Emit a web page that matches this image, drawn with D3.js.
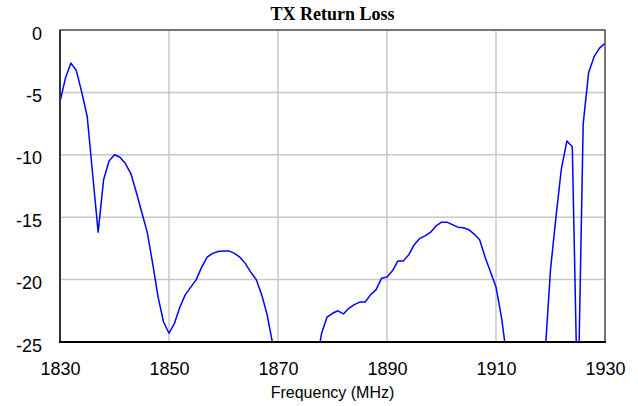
<!DOCTYPE html>
<html>
<head>
<meta charset="utf-8">
<script src="https://cdn.jsdelivr.net/npm/d3@7/dist/d3.min.js"></script>
<style>
	body { margin: 0; background: #fff; }
	svg { display: block; }
</style>
</head>
<body>
<svg id="chart" width="638" height="406"></svg>
<script>
// Data (return loss in dB, 1 MHz steps)
var freqs = [1830,1831,1832,1833,1834,1835,1836,1837,1838,1839,
	1840,1841,1842,1843,1844,1845,1846,1847,1848,1849,
	1850,1851,1852,1853,1854,1855,1856,1857,1858,1859,
	1860,1861,1862,1863,1864,1865,1866,1867,1868,1869,
	1870,1871,1872,1873,1874,1875,1876,1877,1878,1879,
	1880,1881,1882,1883,1884,1885,1886,1887,1888,1889,
	1890,1891,1892,1893,1894,1895,1896,1897,1898,1899,
	1900,1901,1902,1903,1904,1905,1906,1907,1908,1909,
	1910,1911,1912,1913,1914,1915,1916,1917,1918,1919,
	1920,1921,1922,1923,1924,1925,1926,1927,1928,1929,1930];

var returnLoss = [-5.75,-3.85,-2.65,-3.25,-5.0,-6.95,-11.6,-16.2,-12.0,-10.5,
	-10.0,-10.2,-10.7,-11.5,-13.0,-14.6,-16.2,-18.7,-21.4,-23.4,
	-24.3,-23.5,-22.2,-21.2,-20.6,-20.0,-19.0,-18.2,-17.9,-17.75,
	-17.7,-17.7,-17.9,-18.2,-18.7,-19.4,-20.0,-21.2,-22.8,-25.1,
	-28.0,-30.0,-31.5,-32.0,-31.0,-29.5,-28.2,-26.8,-24.3,-23.0,
	-22.7,-22.5,-22.75,-22.3,-22.0,-21.8,-21.8,-21.2,-20.8,-19.9,
	-19.8,-19.3,-18.5,-18.5,-18.0,-17.2,-16.7,-16.5,-16.2,-15.7,
	-15.4,-15.4,-15.6,-15.8,-15.85,-16.0,-16.35,-16.8,-18.2,-19.4,
	-20.6,-23.0,-26.3,-28.5,-30.0,-31.0,-30.5,-29.0,-27.5,-26.0,
	-19.2,-15.0,-11.1,-8.9,-9.35,-31.0,-7.5,-3.4,-2.14,-1.45,-1.07];

var xTicks = [1830, 1850, 1870, 1890, 1910, 1930],
	yTicks = [0, -5, -10, -15, -20, -25];

var title = 'TX Return Loss',
	xLabel = 'Frequency (MHz)';

// Plot box (avoid 'top', it is window.top)
var plotLeft = 60, plotRight = 605, plotTop = 30, plotBottom = 342;

var svg = d3.select('#chart');

var x = d3.scaleLinear().domain([1830, 1930]).range([plotLeft, plotRight]),
	y = d3.scaleLinear().domain([-25, 0]).range([plotBottom, plotTop]);

// Grid
svg.append('g').attr('class', 'grid-x')
	.selectAll('line').data(xTicks).enter().append('line')
		.attr('x1', function(d) { return x(d); })
		.attr('x2', function(d) { return x(d); })
		.attr('y1', plotTop).attr('y2', plotBottom)
		.style('stroke', '#c8c8c8').style('stroke-width', 1.5);

svg.append('g').attr('class', 'grid-y')
	.selectAll('line').data(yTicks).enter().append('line')
		.attr('x1', plotLeft).attr('x2', plotRight)
		.attr('y1', function(d) { return y(d); })
		.attr('y2', function(d) { return y(d); })
		.style('stroke', '#c8c8c8').style('stroke-width', 1.5);

// Clip curve to plot area
svg.append('clipPath').attr('id', 'plot-clip')
	.append('rect')
		.attr('x', plotLeft).attr('y', plotTop)
		.attr('width', plotRight - plotLeft).attr('height', plotBottom - plotTop);

var line = d3.line()
	.x(function(d, i) { return x(freqs[i]); })
	.y(function(d) { return y(d); });

svg.append('path')
	.datum(returnLoss)
	.attr('clip-path', 'url(#plot-clip)')
	.attr('d', line)
	.style('fill', 'none')
	.style('stroke', '#0000ff')
	.style('stroke-width', 1.5)
	.style('stroke-linejoin', 'round');

// Frame
svg.append('rect')
	.attr('x', plotLeft).attr('y', plotTop)
	.attr('width', plotRight - plotLeft).attr('height', plotBottom - plotTop)
	.style('fill', 'none').style('stroke', '#555').style('stroke-width', 1.5);

svg.append('line')
	.attr('x1', plotLeft).attr('x2', plotLeft)
	.attr('y1', plotTop).attr('y2', plotBottom)
	.style('stroke', '#333').style('stroke-width', 2);

svg.append('line')
	.attr('x1', plotLeft - 1).attr('x2', plotRight + 1)
	.attr('y1', plotBottom).attr('y2', plotBottom)
	.style('stroke', '#000').style('stroke-width', 2);

// Tick labels (plain hyphen for negatives, like the original)
var plainFormat = function(d) { return String(d); };

var xAxis = d3.axisBottom(x).tickValues(xTicks).tickSize(0).tickPadding(0).tickFormat(plainFormat);
var gx = svg.append('g').attr('transform', 'translate(0,' + plotBottom + ')').call(xAxis);
gx.select('.domain').remove();
gx.selectAll('text')
	.attr('y', 33).attr('dy', 0)
	.style('font-family', 'Arial, "Liberation Sans", sans-serif')
	.style('font-size', '18px').style('fill', '#000');

var yAxis = d3.axisLeft(y).tickValues(yTicks).tickSize(0).tickPadding(0).tickFormat(plainFormat);
var gy = svg.append('g').attr('transform', 'translate(42,0)').call(yAxis);
gy.select('.domain').remove();
gy.selectAll('text')
	.attr('x', 0).attr('dy', '0.5em')
	.style('font-family', 'Arial, "Liberation Sans", sans-serif')
	.style('font-size', '18px').style('fill', '#000');

// Title and axis label
svg.append('text')
	.attr('x', (plotLeft + plotRight) / 2).attr('y', 20)
	.attr('text-anchor', 'middle')
	.style('font-family', '"Times New Roman", "Liberation Serif", serif')
	.style('font-weight', 'bold').style('font-size', '18px')
	.text(title);

svg.append('text')
	.attr('x', (plotLeft + plotRight) / 2).attr('y', 398)
	.attr('text-anchor', 'middle')
	.style('font-family', 'Arial, "Liberation Sans", sans-serif')
	.style('font-size', '16px')
	.text(xLabel);
</script>
</body>
</html>
